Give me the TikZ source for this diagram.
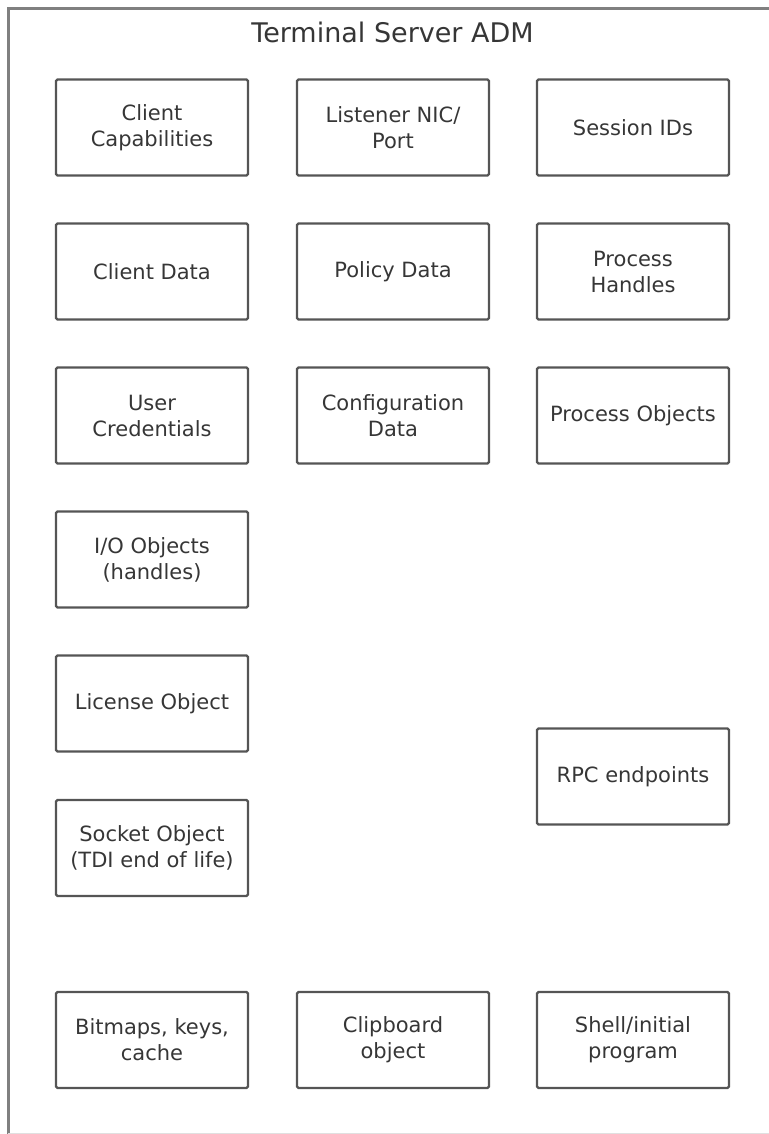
\documentclass[tikz,border=0pt]{standalone}
\usepackage{fontspec}
\setmainfont{DejaVu Sans}
\definecolor{boxline}{HTML}{555555}
\definecolor{frameline}{HTML}{808080}
\definecolor{txt}{HTML}{363636}
\begin{document}
\begin{tikzpicture}[x=1bp,y=-1bp,
  admbox/.style={draw=boxline, line width=2.2bp, rounded corners=1.5bp,
    minimum width=192bp, minimum height=96bp, inner sep=0pt,
    align=center, text=txt, font=\fontsize{21bp}{26bp}\selectfont},
  titletext/.style={text=txt, inner sep=0pt, font=\fontsize{27bp}{32bp}\selectfont}]
\useasboundingbox (0,0) rectangle (769,1134);
% outer frame (left and top edges visible)
\draw[frameline, line width=3bp] (8,1134) -- (8,8) -- (769,8);
\draw[black!12, line width=1bp] (8,1133) -- (769,1133);
\node[titletext] (title) at (392.5,32) {Terminal Server ADM};
% row 1
\node[admbox] (cc)  at (152,127.5) {Client\\Capabilities};
\node[admbox] (lnp) at (393,127.5) {Listener NIC/\\Port};
\node[admbox] (sid) at (633,127.5) {Session IDs};
% row 2
\node[admbox] (cd)  at (152,271.5) {Client Data};
\node[admbox] (pd)  at (393,271.5) {Policy Data};
\node[admbox] (ph)  at (633,271.5) {Process\\Handles};
% row 3
\node[admbox] (uc)  at (152,415.5) {User\\Credentials};
\node[admbox] (cfg) at (393,415.5) {Configuration\\Data};
\node[admbox] (po)  at (633,415.5) {Process Objects};
% column 1 continued
\node[admbox] (io)   at (152,559.5) {I/O Objects\\(handles)};
\node[admbox] (lic)  at (152,703.5) {License Object};
\node[admbox] (sock) at (152,848) {Socket Object\\(TDI end of life)};
% RPC
\node[admbox] (rpc)  at (633,776.5) {RPC endpoints};
% bottom row
\node[admbox] (bmp)   at (152,1040) {Bitmaps, keys,\\cache};
\node[admbox] (clip)  at (393,1040) {Clipboard\\object};
\node[admbox] (shell) at (633,1040) {Shell/initial\\program};
\end{tikzpicture}
\end{document}
